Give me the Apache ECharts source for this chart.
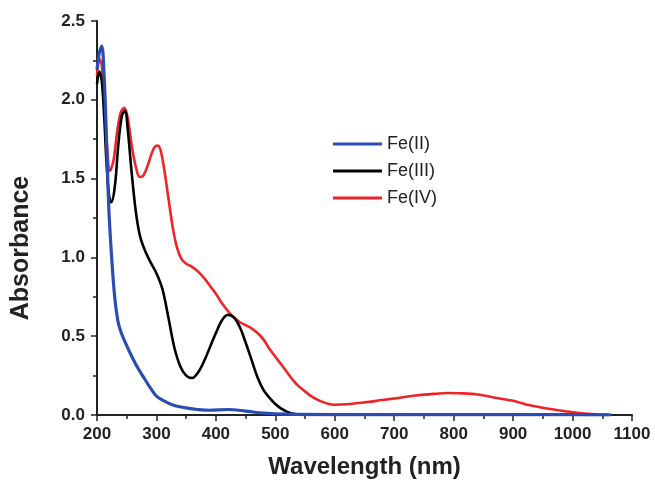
<!DOCTYPE html>
<html>
<head>
<meta charset="utf-8">
<script src="https://cdn.jsdelivr.net/npm/echarts@6/dist/echarts.min.js"></script>
<style>
    html, body { margin: 0; padding: 0; background: #fff; }
    #chart { width: 655px; height: 485px; }
</style>
</head>
<body>
<div id="chart"></div>
<script>
    // Fe(II)
    const feIIWl = [200, 204, 208, 212, 216, 220, 225, 230, 235, 240, 250, 260, 270, 280, 290, 300, 315, 330, 350, 370, 390, 420, 450, 480, 520, 600, 700, 800, 900, 1000, 1065]
    const feIIAbs = [2.19, 2.30, 2.34, 2.15, 1.75, 1.30, 0.98, 0.74, 0.60, 0.53, 0.44, 0.36, 0.29, 0.23, 0.17, 0.12, 0.085, 0.06, 0.045, 0.035, 0.03, 0.035, 0.025, 0.012, 0.005, 0.003, 0.003, 0.003, 0.003, 0.002, 0.0]

    // Fe(III)
    const feIIIWl = [200, 204, 208, 212, 216, 220, 224, 230, 236, 242, 247, 252, 258, 265, 272, 280, 290, 300, 310, 320, 330, 340, 350, 360, 370, 380, 390, 400, 410, 420, 430, 440, 450, 460, 470, 480, 490, 500, 510, 520, 530, 545, 600, 800, 1060]
    const feIIIAbs = [2.10, 2.18, 2.12, 1.90, 1.60, 1.40, 1.35, 1.45, 1.72, 1.90, 1.93, 1.80, 1.55, 1.30, 1.14, 1.05, 0.97, 0.90, 0.80, 0.62, 0.43, 0.31, 0.25, 0.235, 0.27, 0.34, 0.43, 0.52, 0.60, 0.635, 0.62, 0.56, 0.46, 0.35, 0.24, 0.16, 0.11, 0.07, 0.04, 0.02, 0.008, 0.0, 0.0, 0.0, 0.0]

    // Fe(IV)
    const feIVWl = [200, 204, 208, 212, 216, 222, 228, 234, 240, 246, 252, 258, 265, 272, 278, 285, 292, 297, 302, 307, 313, 320, 327, 334, 342, 350, 360, 370, 380, 390, 400, 410, 420, 430, 440, 450, 460, 470, 480, 490, 500, 510, 520, 530, 540, 550, 560, 575, 590, 600, 620, 650, 680, 710, 740, 770, 790, 810, 840, 870, 900, 930, 960, 990, 1020, 1040, 1065]
    const feIVAbs = [2.15, 2.26, 2.22, 2.00, 1.75, 1.55, 1.62, 1.80, 1.92, 1.95, 1.88, 1.72, 1.58, 1.51, 1.52, 1.58, 1.66, 1.70, 1.71, 1.68, 1.56, 1.38, 1.20, 1.07, 0.99, 0.96, 0.94, 0.91, 0.87, 0.82, 0.77, 0.71, 0.66, 0.62, 0.59, 0.57, 0.55, 0.52, 0.48, 0.42, 0.37, 0.32, 0.27, 0.22, 0.18, 0.15, 0.12, 0.09, 0.07, 0.065, 0.068, 0.08, 0.095, 0.11, 0.125, 0.135, 0.14, 0.138, 0.13, 0.11, 0.09, 0.06, 0.04, 0.022, 0.01, 0.004, 0.0]

    const seriesNames = ['Fe(II)', 'Fe(III)', 'Fe(IV)']
    const seriesColors = ['#2b4db3', '#000000', '#ee2427']
    const seriesWidths = [3.2, 2.6, 2.6]

    function pairs(xs, ys) {
        return xs.map((x, i) => [x, ys[i]])
    }

    const chart = echarts.init(document.getElementById('chart'))
    const axisFont = { fontFamily: 'Liberation Sans', fontWeight: 'bold', color: '#222' }

    const options = {
        animation: false,
        backgroundColor: '#fff',
        grid: { left: 97, right: 23, top: 21, bottom: 70 },
        legend: {
            orient: 'vertical',
            left: 333,
            top: 135,
            padding: 0,
            icon: 'rect',
            itemWidth: 49,
            itemHeight: 3,
            itemGap: 9,
            textStyle: { fontFamily: 'Liberation Sans', fontSize: 18, color: '#222' },
            data: seriesNames
        },
        xAxis: {
            type: 'value',
            min: 200,
            max: 1100,
            interval: 100,
            name: 'Wavelength (nm)',
            nameLocation: 'middle',
            nameGap: 40,
            nameTextStyle: Object.assign({ fontSize: 24 }, axisFont),
            axisLine: { lineStyle: { color: '#222', width: 2 } },
            axisTick: { inside: false, length: 6, lineStyle: { color: '#222', width: 1.5 } },
            minorTick: { show: true, splitNumber: 2, length: 4, lineStyle: { color: '#222', width: 1.5 } },
            axisLabel: Object.assign({ fontSize: 17, margin: 11, formatter: v => String(v) }, axisFont),
            splitLine: { show: false }
        },
        yAxis: {
            type: 'value',
            min: 0,
            max: 2.5,
            interval: 0.5,
            name: 'Absorbance',
            nameLocation: 'middle',
            nameGap: 63,
            nameTextStyle: Object.assign({ fontSize: 25, padding: [0, 60, 0, 0] }, axisFont),
            axisLine: { show: true, lineStyle: { color: '#222', width: 2 } },
            axisTick: { show: true, length: 6, lineStyle: { color: '#222', width: 1.5 } },
            minorTick: { show: true, splitNumber: 2, length: 4, lineStyle: { color: '#222', width: 1.5 } },
            axisLabel: Object.assign({ fontSize: 17, margin: 12, formatter: v => v.toFixed(1) }, axisFont),
            splitLine: { show: false }
        },
        series: [
            { name: seriesNames[0], data: pairs(feIIWl, feIIAbs), z: 4 },
            { name: seriesNames[1], data: pairs(feIIIWl, feIIIAbs), z: 3 },
            { name: seriesNames[2], data: pairs(feIVWl, feIVAbs), z: 2 }
        ].map((s, i) => Object.assign({
            type: 'line',
            smooth: 0.35,
            symbol: 'none',
            color: seriesColors[i],
            lineStyle: { width: seriesWidths[i], color: seriesColors[i] }
        }, s))
    }
    chart.setOption(options)
</script>
</body>
</html>
